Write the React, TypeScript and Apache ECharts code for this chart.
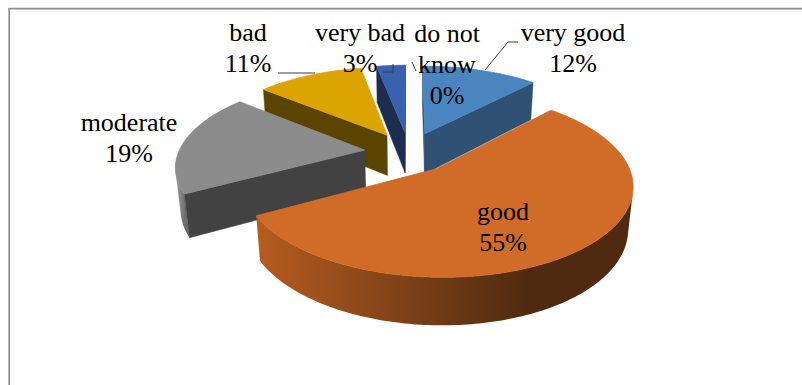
import React, { useEffect, useRef } from 'react';
import * as echarts from 'echarts';

// ---- data ----
const categories = ['very good', 'good', 'moderate', 'bad', 'very bad', 'do not know'];
const values = [12, 55, 19, 11, 3, 0];

// ---- styles ----
const topColors = ['#4A85BF', '#D06B28', '#8C8C8C', '#DCA400', '#3862AE', '#5E9E3A'];
const faceColors = ['#2E5174', '#6E3510', '#424242', '#5A4400', '#1C2D50', '#2E4F1C'];
const wallStops = [
  ['#3E6E9E', '#243F5A'],
  ['#B75C21', '#4F2A10'],
  ['#A0A0A0', '#6A6A6A'],
  ['#B88A00', '#4A3800'],
  ['#2F5296', '#16233F'],
  ['#4E8530', '#233C15'],
];

// label layout (block centres, px) and leader lines
const labelPos = [[573, 48], [503, 227], [129, 138], [248, 48], [360, 48], [447, 64]];
const leaderLines: (number[][] | null)[] = [
  [[518, 42], [508, 42], [485, 70]],
  null,
  null,
  [[278, 73], [315, 73]],
  [[383, 72], [393, 72], [393, 64]],
  [[412, 62], [416, 71]],
];

// ---- 3D view ----
const VIEW = { cx: 409, cy: 152, k: 186, tilt: 27, f: 5.35, H: 0.255, E: 0.24 };
const rad = (d: number) => (d * Math.PI) / 180;
const sinA = Math.sin(rad(VIEW.tilt));
const cosA = Math.cos(rad(VIEW.tilt));
const camX = 0;
const camY = -VIEW.f * cosA;

function proj(X: number, Y: number, Z: number): number[] {
  const yp = Y * sinA + Z * cosA;
  const zp = Y * cosA - Z * sinA;
  const s = VIEW.f / (VIEW.f + zp);
  return [VIEW.cx + VIEW.k * X * s, VIEW.cy - VIEW.k * yp * s];
}

const total = values.reduce((a, b) => a + b, 0);
let acc = 0;
const slices = values.map((v) => {
  const a = (acc / total) * 360;
  acc += v;
  const b = (acc / total) * 360;
  const m = (a + b) / 2;
  const ax = VIEW.E * Math.sin(rad(m));
  const ay = VIEW.E * Math.cos(rad(m));
  return { a, b, m, ax, ay, depth: ay * cosA };
});
const order = slices
  .map((s, i) => ({ i, d: s.depth }))
  .sort((p, q) => q.d - p.d)
  .map((p) => p.i);
const rankOf = (i: number) => order.indexOf(i);

const FAMILY = 'Liberation Serif';

function renderItem(params: any) {
  const i = params.dataIndex;
  const sl = slices[i];
  const children: any[] = [];
  const base = rankOf(i) * 10;
  const H = VIEW.H;
  if (sl.b - sl.a > 0.01) {
    const { ax, ay, a, b } = sl;
    const rim = (phi: number, Z: number) =>
      proj(ax + Math.sin(rad(phi)), ay + Math.cos(rad(phi)), Z);
    const n = Math.max(2, Math.ceil(b - a));
    const angs: number[] = [];
    for (let j = 0; j <= n; j++) angs.push(a + ((b - a) * j) / n);

    // outer curved wall, visible part only
    const runs: number[][] = [];
    let cur: number[] = [];
    angs.forEach((phi) => {
      const sx = Math.sin(rad(phi));
      const sy = Math.cos(rad(phi));
      const px = ax + sx;
      const py = ay + sy;
      const vis = (camX - px) * sx + (camY - py) * sy > 0;
      if (vis) cur.push(phi);
      else {
        if (cur.length > 1) runs.push(cur);
        cur = [];
      }
    });
    if (cur.length > 1) runs.push(cur);
    runs.forEach((run) => {
      const pts = run.map((p) => rim(p, 0)).concat(run.slice().reverse().map((p) => rim(p, -H)));
      children.push({
        type: 'polygon',
        z2: base + 1,
        shape: { points: pts },
        style: {
          fill: {
            type: 'linear', x: 0, y: 0, x2: 1, y2: 0,
            colorStops: [
              { offset: 0, color: wallStops[i][0] },
              { offset: 0.72, color: wallStops[i][1] },
              { offset: 1, color: wallStops[i][1] },
            ],
          },
        },
      });
    });

    // radial cut faces (back-face culled)
    [
      { phi: a, nrm: a - 90 },
      { phi: b, nrm: b + 90 },
    ].forEach(({ phi, nrm }) => {
      const vis = (camX - ax) * Math.sin(rad(nrm)) + (camY - ay) * Math.cos(rad(nrm)) > 0;
      if (!vis) return;
      children.push({
        type: 'polygon',
        z2: base + 2,
        shape: { points: [proj(ax, ay, 0), rim(phi, 0), rim(phi, -H), proj(ax, ay, -H)] },
        style: { fill: faceColors[i], stroke: faceColors[i], lineWidth: 0.5 },
      });
    });

    // top face
    children.push({
      type: 'polygon',
      z2: base + 3,
      shape: { points: [proj(ax, ay, 0)].concat(angs.map((p) => rim(p, 0))) },
      style: { fill: topColors[i], stroke: topColors[i], lineWidth: 0.8, lineJoin: 'round' },
    });
  }

  const ll = leaderLines[i];
  if (ll) {
    children.push({
      type: 'polyline',
      z2: 199,
      shape: { points: ll },
      style: { stroke: '#3a3a3a', lineWidth: 1, fill: null },
    });
  }
  return { type: 'group', children };
}

export default function App() {
  const ref = useRef<HTMLDivElement>(null);
  useEffect(() => {
    if (!ref.current) return;
    const chart = echarts.init(ref.current, null, { renderer: 'svg' });
    const labels = categories.map((c, i) => ({
      type: 'text',
      z: 100,
      x: labelPos[i][0],
      y: labelPos[i][1],
      style: {
        text: (c === 'do not know' ? 'do not\nknow' : c) + '\n' + values[i] + '%',
        fill: '#000',
        fontSize: 26,
        fontFamily: FAMILY,
        align: 'center',
        verticalAlign: 'middle',
        lineHeight: 31,
      },
    }));
    chart.setOption({
      animation: false,
      backgroundColor: '#ffffff',
      textStyle: { fontFamily: FAMILY },
      graphic: [
        { type: 'line', shape: { x1: 8.5, y1: 8.6, x2: 802, y2: 8.6 }, style: { stroke: '#8c8c8c', lineWidth: 1.6 } },
        { type: 'line', shape: { x1: 9.2, y1: 8, x2: 9.2, y2: 385 }, style: { stroke: '#8c8c8c', lineWidth: 1.6 } },
        ...labels,
      ],
      series: [
        {
          type: 'custom',
          coordinateSystem: 'none',
          silent: true,
          data: values.map((v, i) => ({ value: v, name: categories[i] })),
          renderItem,
        },
      ],
    });
    return () => chart.dispose();
  }, []);
  return (
    <div
      ref={ref}
      style={{ position: 'fixed', left: 0, top: 0, width: 802, height: 385, background: '#fff' }}
    />
  );
}
